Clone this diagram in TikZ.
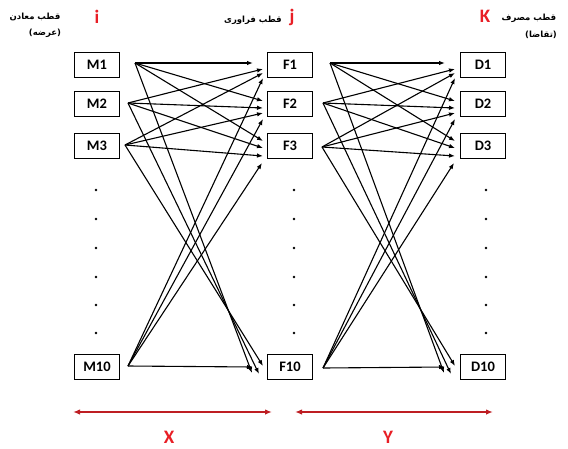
\documentclass[tikz,border=0pt]{standalone}
\usepackage{fontspec}
\setmainfont{Carlito}
\newfontfamily\arabicfont[Script=Arabic]{DejaVu Sans}
\TeXXeTstate=1
\usetikzlibrary{arrows.meta,calc}
\definecolor{lblred}{RGB}{232,30,37}
\definecolor{axred}{RGB}{190,30,35}
\begin{document}
\begin{tikzpicture}[x=1pt,y=-1pt,
  box/.style={draw,line width=1.3pt,minimum width=45pt,minimum height=25pt,inner sep=0pt,font=\fontsize{14.5}{14.5}\selectfont\bfseries},
  arr/.style={-{Latex[length=6pt,width=4.5pt]},line width=1.1pt},
  axarr/.style={{Latex[length=7pt,width=5.5pt]}-{Latex[length=7pt,width=5.5pt]},line width=2pt,draw=axred},
  idx/.style={text=lblred,font=\fontsize{19}{19}\selectfont\bfseries},
  axlbl/.style={text=lblred,font=\fontsize{19}{19}\selectfont\bfseries},
  ar/.style={font=\arabicfont\fontsize{8.5}{10}\selectfont\bfseries,inner sep=0pt},
  dot/.style={circle,fill=black,inner sep=0pt,minimum size=2.8pt}]
\useasboundingbox (0,0) rectangle (568,448);

% boxes
\foreach \c/\x in {M/97,F/290,D/483}{
  \node[box] (\c1) at (\x,65) {\c1};
  \node[box] (\c2) at (\x,104) {\c2};
  \node[box] (\c3) at (\x,146) {\c3};
  \node[box] (\c10) at (\x,367) {\c10};
}
% dots
\foreach \c/\x in {M/96,F/294,D/486}{
  \foreach \y [count=\k] in {190,219,248,277,305,333}{
    \node[dot] (\c dot\k) at (\x,\y) {};
  }
}

% headers
\node[ar] (hM) at (35,17) {\beginR قطب معادن\endR};
\node[ar] (hMb) at (45,33) {\beginR (عرضه)\endR};
\node[idx] (li) at (97,17) {i};
\node[ar] (hF) at (253,20) {\beginR قطب فراوری\endR};
\node[idx] (lj) at (292,17) {j};
\node[idx] (lk) at (485,16) {K};
\node[ar] (hD) at (529,18) {\beginR قطب مصرف\endR};
\node[ar] (hDb) at (541,35) {\beginR (تقاضا)\endR};

% start coordinates
\coordinate (sM1) at (135,63);
\coordinate (sM2) at (128,103);
\coordinate (sM3) at (125,145);
\coordinate (sM10) at (128,366);
\coordinate (sF1) at (330,63);
\coordinate (sF2) at (323,103);
\coordinate (sF3) at (322,147);
\coordinate (sF10) at (323,368);

% arrows of both layers
\foreach \s/\t/\sh in {M/F/0,F/D/192}{
  \foreach \a/\b/\ex/\ey in {1/1/253/63, 2/1/263/69, 3/1/263/73, 10/1/263/78,
                             1/2/263/101, 2/2/263/108, 3/2/263/113, 10/2/263/119,
                             1/3/263/141, 3/3/263/156, 2/3/263/148, 10/3/262/163,
                             1/10/252/373, 2/10/259/374, 3/10/263/366, 10/10/253/367}{
    \coordinate (e\s\a\t\b) at (\ex+\sh,\ey);
    \draw[arr] (s\s\a) -- (e\s\a\t\b);
  }
}

% axes
\coordinate (xa) at (73,412);
\coordinate (xb) at (272,412);
\coordinate (ya) at (295,412);
\coordinate (yb) at (493,412);
\draw[axarr] (xa) -- (xb);
\draw[axarr] (ya) -- (yb);
\node[axlbl] (lx) at (169,437) {X};
\node[axlbl] (ly) at (388,437) {Y};
\end{tikzpicture}
\end{document}
